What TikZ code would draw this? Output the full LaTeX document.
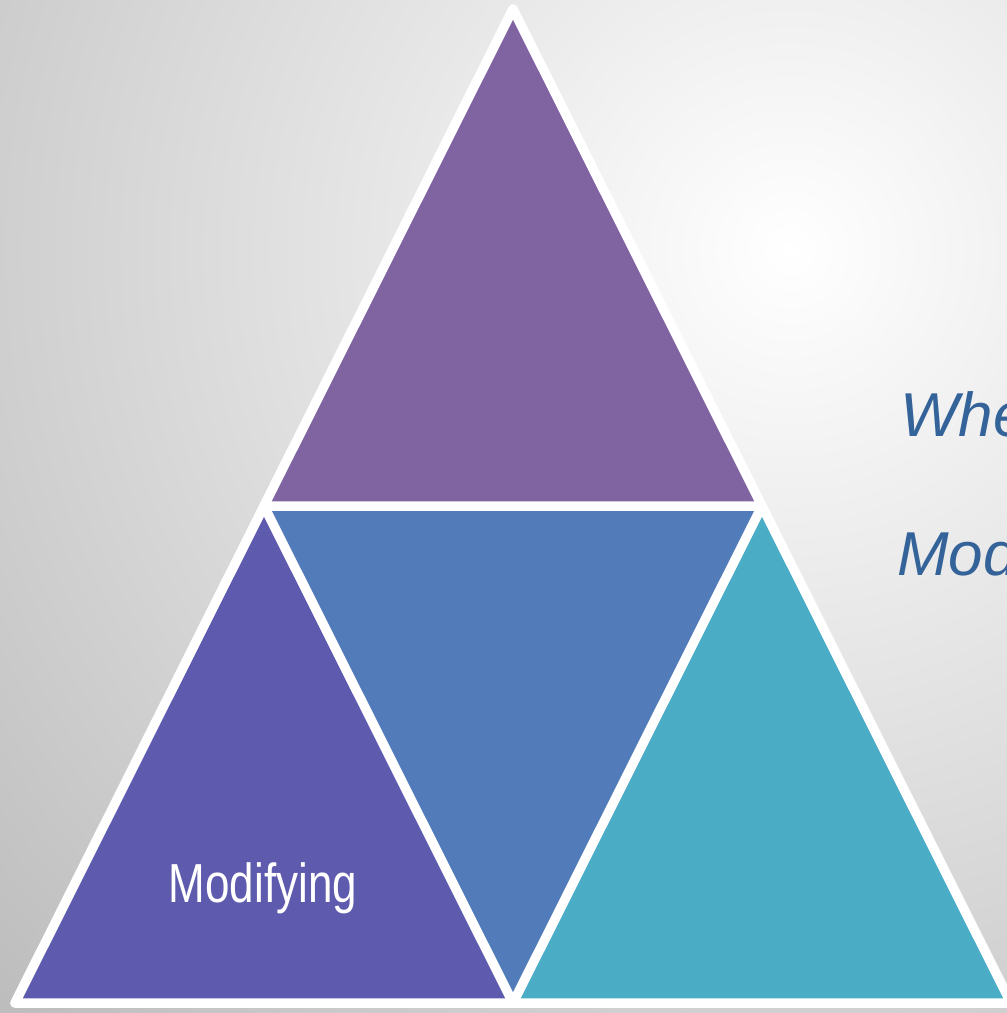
\documentclass[tikz,border=0pt]{standalone}
\usepackage{fontspec}
\setmainfont{Liberation Sans}
\definecolor{toppurple}{HTML}{8064A2}
\definecolor{midblue}{HTML}{527BBA}
\definecolor{leftviolet}{HTML}{5E5BAE}
\definecolor{rightaqua}{HTML}{4BACC6}
\definecolor{textblue}{HTML}{34639A}
\definecolor{bggray}{HTML}{8C8C8C}
\begin{document}
\begin{tikzpicture}[x=1pt,y=-1pt,
    edge/.style={draw=white,line width=9.5pt,line join=round},
    sidetext/.style={anchor=base west,text=textblue,font=\fontsize{62}{68}\selectfont\itshape,inner sep=0pt}]
    \clip (0,0) rectangle (1007,1013);
    \shade[inner color=white,outer color=bggray] (790,250) circle (1900);

    \coordinate (apex) at (513,9);
    \coordinate (bl) at (15,1003);
    \coordinate (br) at (1011,1003);
    \coordinate (ml) at (264,506);
    \coordinate (mr) at (762,506);
    \coordinate (mb) at (513,1003);

    \fill[toppurple] (apex)--(ml)--(mr)--cycle;
    \fill[midblue] (ml)--(mr)--(mb)--cycle;
    \fill[leftviolet] (ml)--(bl)--(mb)--cycle;
    \fill[rightaqua] (mr)--(mb)--(br)--cycle;
    \draw[edge] (apex)--(bl)--(br)--cycle;
    \draw[edge] (ml)--(mr)--(mb)--cycle;

    \node[anchor=base,text=white,font=\fontsize{55}{60}\selectfont,xscale=0.8,inner sep=0pt] (modifying) at (263,902) {Modifying};

    \node[sidetext] (whe) at (900,436) {Whe};
    \node[sidetext] (mod) at (897,575) {Mod};
\end{tikzpicture}
\end{document}
